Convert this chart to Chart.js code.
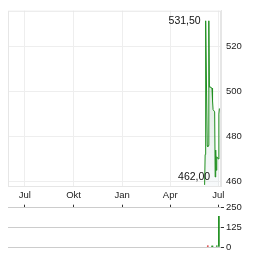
<!DOCTYPE html>
<html>
<head>
<meta charset="utf-8">
<script src="https://cdn.jsdelivr.net/npm/chart.js@4.4.1/dist/chart.umd.min.js"></script>
<style>
  html, body { margin: 0; padding: 0; background: #fff; }
  #wrap { position: relative; width: 264px; height: 255px; }
  #price { position: absolute; left: 0; top: 0; }
  #volume { position: absolute; left: 0; top: 200px; }
</style>
</head>
<body>
<div id="wrap">
  <canvas id="price" width="264" height="200"></canvas>
  <canvas id="volume" width="264" height="55"></canvas>
</div>
<script>
// price series (closing prices)
const priceDates = [
  "2024-06-05", "2024-06-06", "2024-06-07", "2024-06-10", "2024-06-11",
  "2024-06-12", "2024-06-13", "2024-06-14", "2024-06-17", "2024-06-18",
  "2024-06-19", "2024-06-20", "2024-06-21", "2024-06-24", "2024-06-25",
  "2024-06-26", "2024-06-27", "2024-06-28", "2024-07-01", "2024-07-02",
  "2024-07-03"
];
const priceValues = [
  458.5, 472, 531.5, 476, 475.5,
  476, 531.5, 502, 502, 501.5,
  501.5, 496, 492, 491, 462,
  474, 465, 471, 470, 490,
  492.5
];

// volume series
const volumeDates = ["2024-06-11", "2024-06-19", "2024-06-20", "2024-06-28", "2024-07-02"];
const volumeValues = [7, 6, 6, 7, 195];
const volumeDirection = ["down", "up", "up", "up", "up"];

// high / low marks shown as labels
const markValues = [531.5, 462.0];

// axes
const monthTickDates = ["2023-07-01", "2023-10-01", "2024-01-01", "2024-04-01", "2024-07-01"];
const monthLabels = ["Jul", "Okt", "Jan", "Apr", "Jul"];
const priceTicks = [460, 480, 500, 520];
const volumeTicks = [0, 125, 250];

const day = (s) => Date.UTC(+s.slice(0, 4), +s.slice(5, 7) - 1, +s.slice(8, 10)) / 864e5;
const xMin = day("2023-05-30");
const xMax = day("2024-07-06");

Chart.defaults.font.family = "'Liberation Sans', Arial, sans-serif";
Chart.defaults.font.size = 9.5;
Chart.defaults.color = "#222";
Chart.defaults.animation = false;

const monthTicks = (s) => {
  s.ticks = monthTickDates.map((d) => ({ value: day(d) }));
};

const framePlugin = {
  id: "frame",
  beforeDatasetsDraw(chart) {
    const { ctx, chartArea: a } = chart;
    ctx.save();
    ctx.strokeStyle = "#e6e6e6";
    ctx.lineWidth = 1;
    ctx.strokeRect(a.left + 0.5, a.top + 0.5, a.right - a.left - 1, a.bottom - a.top);
    ctx.restore();
  },
};

const marksPlugin = {
  id: "marks",
  afterDatasetsDraw(chart) {
    const { ctx } = chart;
    const meta = chart.getDatasetMeta(0);
    ctx.save();
    ctx.font = "10.5px 'Liberation Sans', Arial, sans-serif";
    ctx.fillStyle = "#111";
    ctx.textAlign = "right";
    ctx.textBaseline = "middle";
    markValues.forEach((v) => {
      const i = priceValues.indexOf(v);
      if (i < 0) return;
      const pt = meta.data[i];
      ctx.fillText(v.toFixed(2).replace(".", ","), pt.x - 5, pt.y);
    });
    ctx.restore();
  },
};

new Chart(document.getElementById("price"), {
  type: "line",
  data: {
    datasets: [
      {
        data: priceDates.map((d, i) => ({ x: day(d), y: priceValues[i] })),
        borderColor: "#1f8f1f",
        borderWidth: 1,
        pointRadius: 0,
        tension: 0,
        fill: "start",
        backgroundColor: (c) => {
          const { ctx, chartArea } = c.chart;
          if (!chartArea) return "rgba(0,0,0,0)";
          const g = ctx.createLinearGradient(0, chartArea.top, 0, chartArea.bottom);
          g.addColorStop(0, "rgba(70,150,70,0.35)");
          g.addColorStop(1, "rgba(200,215,225,0.15)");
          return g;
        },
      },
    ],
  },
  options: {
    responsive: false,
    devicePixelRatio: 1,
    layout: { padding: { left: 8, top: 7, right: 0, bottom: 0 } },
    plugins: { legend: { display: false }, tooltip: { enabled: false } },
    scales: {
      x: {
        type: "linear",
        min: xMin,
        max: xMax,
        afterBuildTicks: monthTicks,
        afterFit: (s) => { s.height = 14; },
        ticks: {
          callback: (v, i) => monthLabels[i],
          padding: 4,
          maxRotation: 0,
          autoSkip: false,
        },
        grid: { color: "#eee", drawTicks: false },
        border: { color: "#e6e6e6" },
      },
      y: {
        position: "right",
        min: 458,
        max: 536,
        afterBuildTicks: (s) => { s.ticks = priceTicks.map((v) => ({ value: v })); },
        afterFit: (s) => { s.width = 43; },
        ticks: { padding: 5 },
        grid: { color: "#eee", drawTicks: false },
        border: { color: "#e6e6e6" },
      },
    },
  },
  plugins: [framePlugin, marksPlugin],
});

new Chart(document.getElementById("volume"), {
  type: "bar",
  data: {
    datasets: [
      {
        data: volumeDates.map((d, i) => ({ x: day(d), y: volumeValues[i] })),
        backgroundColor: volumeDirection.map((d) => (d === "up" ? "#1a8c1a" : "#d42020")),
        barThickness: 1,
      },
    ],
  },
  options: {
    responsive: false,
    devicePixelRatio: 1,
    layout: { padding: { left: 8, top: 4, right: 0, bottom: 8 } },
    plugins: { legend: { display: false }, tooltip: { enabled: false } },
    scales: {
      x: {
        type: "linear",
        position: "top",
        offset: false,
        min: xMin,
        max: xMax,
        afterBuildTicks: monthTicks,
        afterFit: (s) => { s.height = 3; },
        ticks: { display: false },
        grid: { offset: false, drawOnChartArea: false, tickLength: 3, tickColor: "#333" },
        border: { display: false },
      },
      y: {
        position: "right",
        min: 0,
        max: 250,
        afterBuildTicks: (s) => { s.ticks = volumeTicks.map((v) => ({ value: v })); },
        afterFit: (s) => { s.width = 43; },
        ticks: { padding: 2 },
        grid: { color: "#ccc", tickColor: "#333", tickLength: 3 },
        border: { display: false },
      },
    },
  },
});
</script>
</body>
</html>
